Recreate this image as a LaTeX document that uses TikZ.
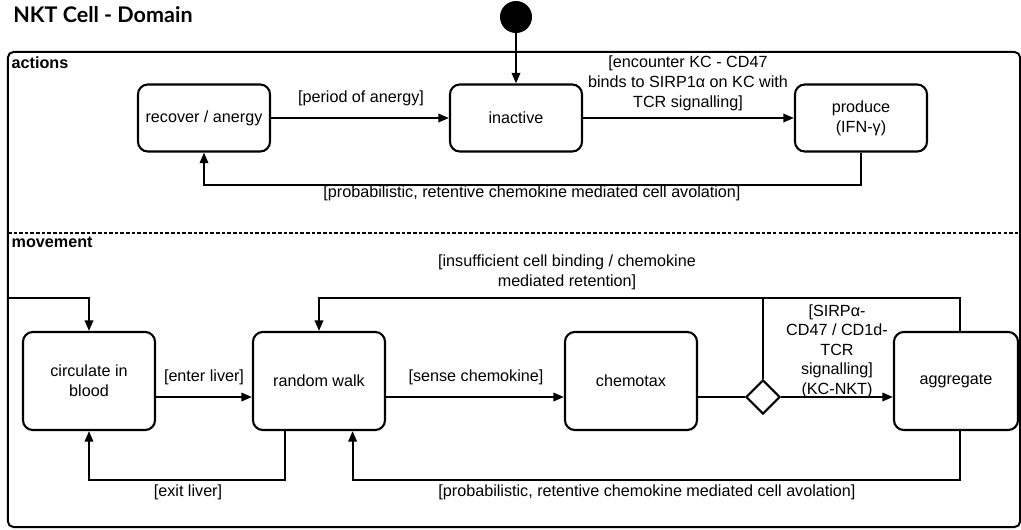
\documentclass[tikz,border=0pt]{standalone}
\usepackage{fontspec}
\setmainfont{Liberation Sans}
\newfontfamily\titlefont{Lato}
\usetikzlibrary{arrows.meta, positioning, shapes.geometric, calc}

\begin{document}
\begin{tikzpicture}[
    x=0.025cm, y=-0.025cm,
    font=\fontsize{11.5}{14.2}\selectfont,
    state/.style={rectangle, rounded corners=7pt, draw, line width=1.5pt, align=center,
                  minimum width=3.3cm, minimum height=1.675cm, inner sep=2pt},
    mstate/.style={state, minimum height=2.45cm},
    choice/.style={diamond, draw, line width=1.5pt, minimum width=0.85cm,
                   minimum height=0.85cm, inner sep=0pt},
    initial/.style={circle, fill=black, minimum size=0.8cm, inner sep=0pt},
    arr/.style={-{Triangle[length=7.5pt, width=6pt]}, line width=1.4pt},
    link/.style={line width=1.4pt},
    guard/.style={align=center, inner sep=1pt},
    region/.style={font=\bfseries\fontsize{11.5}{14}\selectfont, anchor=north west, inner sep=1pt},
    frame/.style={draw, rounded corners=4pt, line width=1.4pt, inner sep=0pt,
                  minimum width=25.3cm, minimum height=11.875cm},
    sep/.style={line width=1.4pt, dash pattern=on 2.5pt off 1.5pt}
]
\useasboundingbox (0,0) rectangle (1021,529);

% =========== title + outer frame ===========
\node[font=\titlefont\bfseries\fontsize{15.3}{17}\selectfont, anchor=base west, inner sep=0pt]
    (title) at (13,22) {NKT Cell - Domain};
\node[frame] (domain) at (514,289.5) {};
\coordinate (sepL) at (8,233);
\coordinate (sepR) at (1020,233);
\draw[sep] (sepL) -- (sepR);
\node[region] (actlbl) at (10,55)  {actions};
\node[region] (movlbl) at (10,235) {movement};

% =========== ACTIONS region ===========
\node[initial]                 (init)     at (516,17)  {};
\node[state]                   (recover)  at (204,118) {recover / anergy};
\node[state]                   (inactive) at (516,118) {inactive};
\node[state]                   (produce)  at (861,118) {produce\\(IFN-γ)};

\draw[arr] (init)     -- (inactive);
\draw[arr] (recover)  -- (inactive);
\draw[arr] (inactive) -- (produce);
\draw[arr] (produce.south) -- ++(0,32) -| (recover.south);

\node[guard] (gperiod)  at (361,98)  {[period of anergy]};
\node[guard] (gencount) at (688,83)  {[encounter KC - CD47\\binds to SIRP1α on KC with\\TCR signalling]};
\node[guard] (gavoltop) at (532,193) {[probabilistic, retentive chemokine mediated cell avolation]};

% =========== MOVEMENT region ===========
\node[mstate]                  (circ)  at (89,381)  {circulate in\\blood};
\node[mstate]                  (walk)  at (319,381) {random walk};
\node[mstate]                  (chemo) at (631,381) {chemotax};
\node[choice]                  (dec)   at (763,397) {};
\node[mstate, minimum width=3.1cm] (aggr) at (956,381) {aggregate};

\coordinate (entry) at (8,298);
\draw[arr] (entry) -| (circ.north);
\draw[arr] ([yshift=-0.4cm]circ.east) -- ([yshift=-0.4cm]walk.west);
\draw[arr] ([xshift=-0.84cm]walk.south) -- ++(0,49) -| (circ.south);
\draw[arr] ([yshift=-0.4cm]walk.east) -- ([yshift=-0.4cm]chemo.west);
\draw[link] ([yshift=-0.4cm]chemo.east) -- (dec.west);
\draw[arr] (dec.east) -- (dec.east -| aggr.west);
\draw[arr] ([xshift=0.1cm]aggr.south) -- ++(0,49) -| ([xshift=0.84cm]walk.south);
\draw[arr] ([xshift=0.1cm]aggr.north) -- ++(0,-33) coordinate (ret) -| (walk.north);
\draw[link] (dec.north) -- (dec.north |- ret);

\node[guard] (genter) at (204,377) {[enter liver]};
\node[guard] (gsense) at (476,377) {[sense chemokine]};
\node[guard] (gexit)  at (188,492) {[exit liver]};
\node[guard] (gavolbot) at (647,492) {[probabilistic, retentive chemokine mediated cell avolation]};
\node[guard] (gretain)  at (567,272) {[insufficient cell binding / chemokine\\mediated retention]};
\node[guard, font=\fontsize{11.5}{13.8}\selectfont] (gsirp) at (837,351)
    {[SIRPα-\\CD47 / CD1d-\\TCR\\signalling]\\(KC-NKT)};

\end{tikzpicture}
\end{document}
